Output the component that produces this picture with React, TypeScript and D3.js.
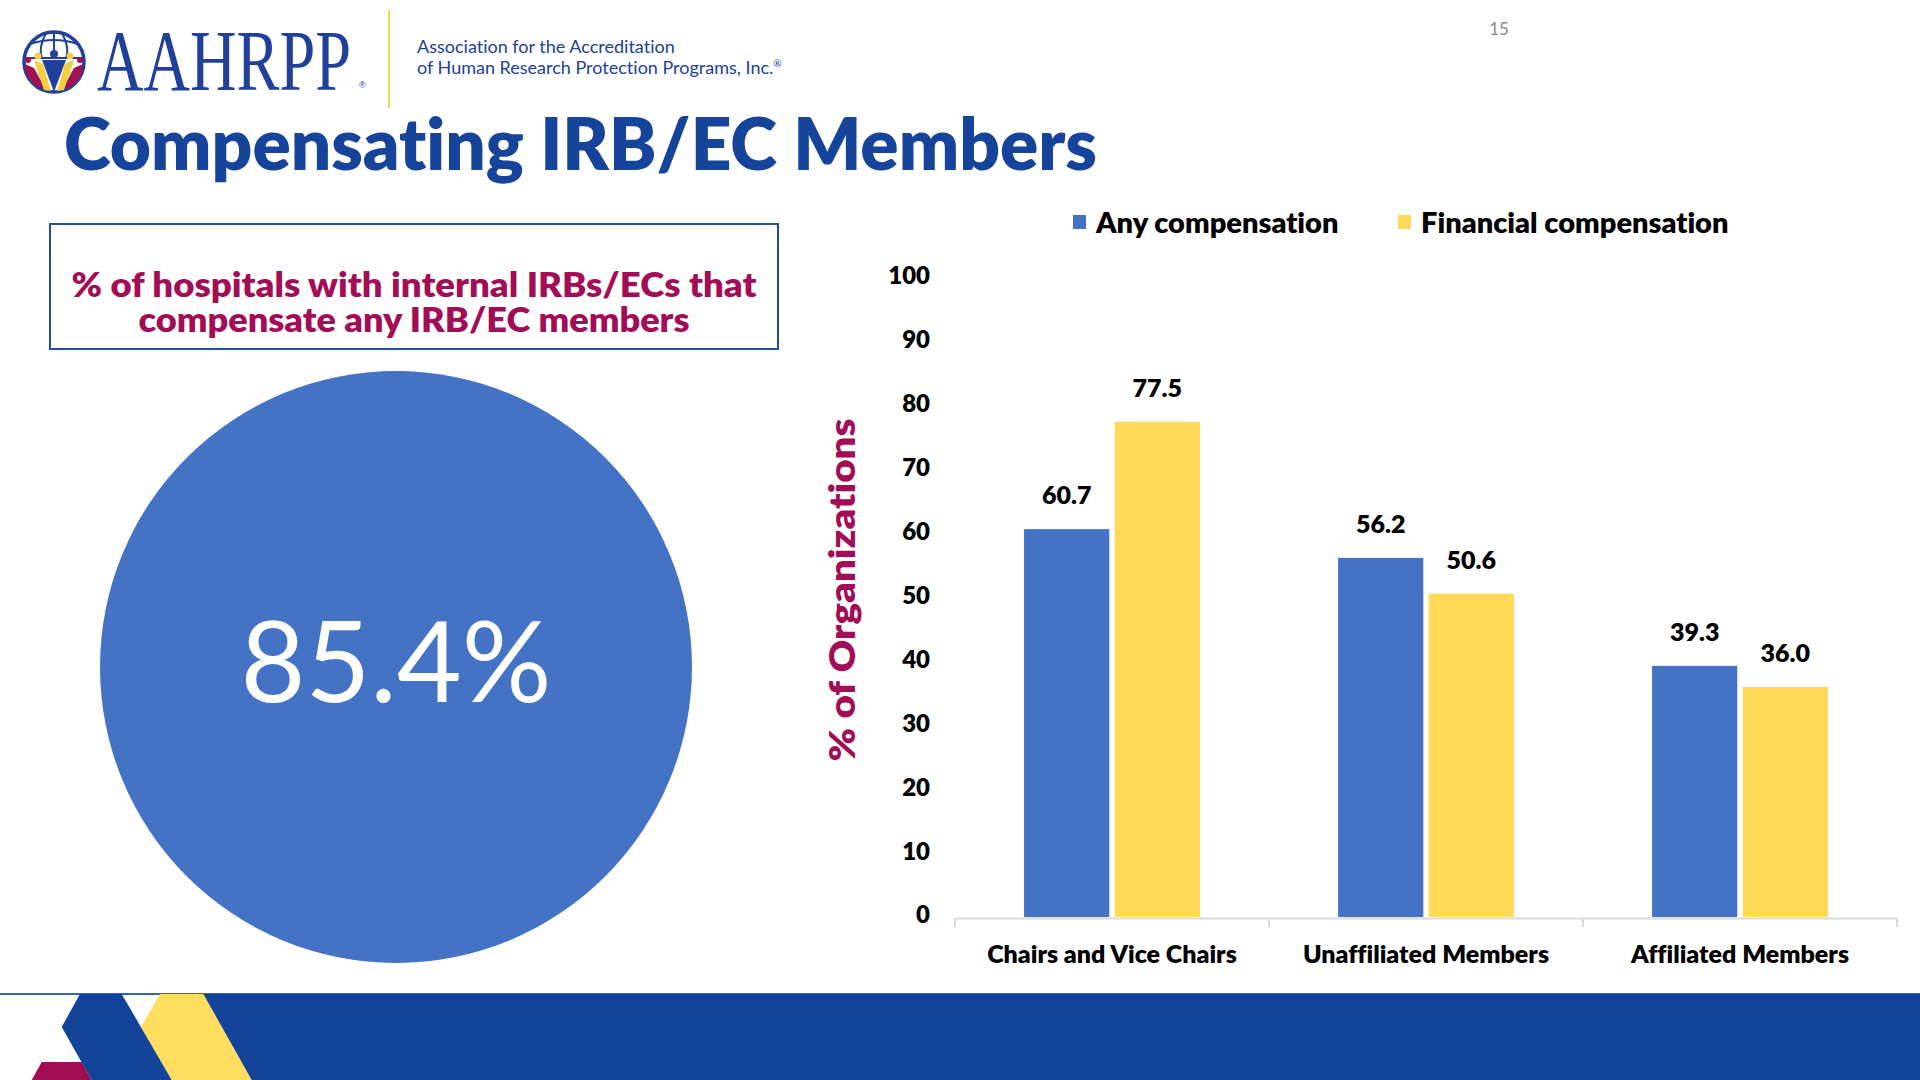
import React from 'react';
import * as d3 from 'd3';

// chart data
const categories = ['Chairs and Vice Chairs', 'Unaffiliated Members', 'Affiliated Members'];
const seriesNames = ['Any compensation', 'Financial compensation'];
const anyCompensation = [60.7, 56.2, 39.3];
const financialCompensation = [77.5, 50.6, 36.0];
const yTicks = [0, 10, 20, 30, 40, 50, 60, 70, 80, 90, 100];
const hospitalShare = 85.4;

const BLUE = '#4472C4';
const YELLOW = '#FFD957';
const NAVY = '#17449B';
const MAROON = '#A10E55';
const FONT = 'Lato, "Open Sans", sans-serif';
const BOLD = 800;

const seriesColors = [BLUE, YELLOW];
const seriesValues = [anyCompensation, financialCompensation];

const Logo: React.FC = () => {
  const cx = 54, cy = 62, r = 30;
  return (
    <g>
      <circle cx={cx} cy={cy} r={r} fill="none" stroke="#21409A" strokeWidth={3.5} />
      {/* globe lines */}
      <line x1={cx - r} y1={cy - 4} x2={cx + r} y2={cy - 4} stroke="#21409A" strokeWidth={2} />
      <path d={`M${cx - 24},${cy - 18} Q${cx},${cy - 26} ${cx + 24},${cy - 18}`} fill="none" stroke="#21409A" strokeWidth={2} />
      <path d={`M${cx},${cy - r} L${cx},${cy - 8}`} stroke="#21409A" strokeWidth={2} />
      <path d={`M${cx - 8},${cy - r + 1} Q${cx - 16},${cy - 14} ${cx - 12},${cy - 4}`} fill="none" stroke="#21409A" strokeWidth={2} />
      <path d={`M${cx + 8},${cy - r + 1} Q${cx + 16},${cy - 14} ${cx + 12},${cy - 4}`} fill="none" stroke="#21409A" strokeWidth={2} />
      {/* figures */}
      <path d={`M${cx - 29},${cy + 2} L${cx - 20},${cy + 6} L${cx - 8},${cy + 28} Q${cx - 20},${cy + 26} ${cx - 28},${cy + 12} Z`} fill="#A2124F" />
      <path d={`M${cx + 29},${cy + 2} L${cx + 20},${cy + 6} L${cx + 8},${cy + 28} Q${cx + 20},${cy + 26} ${cx + 28},${cy + 12} Z`} fill="#A2124F" />
      <path d={`M${cx - 20},${cy - 2} L${cx - 11},${cy + 2} L${cx - 3},${cy + 29} L${cx - 10},${cy + 28} Z`} fill="#F6CF3F" />
      <path d={`M${cx + 20},${cy - 2} L${cx + 11},${cy + 2} L${cx + 3},${cy + 29} L${cx + 10},${cy + 28} Z`} fill="#F6CF3F" />
      <path d={`M${cx - 12},${cy - 2} L${cx + 12},${cy - 2} L${cx},${cy + 30} Z`} fill="#21409A" />
      <circle cx={cx} cy={cy - 8} r={4} fill="#21409A" />
      <circle cx={cx - 16} cy={cy - 6} r={3.5} fill="#F6CF3F" />
      <circle cx={cx + 16} cy={cy - 6} r={3.5} fill="#F6CF3F" />
      <circle cx={cx - 26} cy={cy - 2} r={3} fill="#A2124F" />
      <circle cx={cx + 26} cy={cy - 2} r={3} fill="#A2124F" />
      <text x={97} y={90} fontFamily='"Liberation Serif", serif' fontSize={86} fill="#21409A"
        textLength={254} lengthAdjust="spacingAndGlyphs">AAHRPP</text>
      <text x={359} y={88} fontFamily='"Liberation Sans", sans-serif' fontSize={9} fill="#21409A">®</text>
      <line x1={389} y1={10} x2={389} y2={108} stroke="#F7D54A" strokeWidth={2} />
      <text x={417} y={53} fontFamily={FONT} fontSize={18} fill="#21409A">Association for the Accreditation</text>
      <text x={417} y={74} fontFamily={FONT} fontSize={18} fill="#21409A">of Human Research Protection Programs, Inc.<tspan fontSize={10} dy={-7}>®</tspan></text>
    </g>
  );
};

const Banner: React.FC = () => (
  <g>
    <rect x={0} y={993} width={1920} height={2} fill="#3563B2" />
    <polygon points="41.7,1062 81.7,1062 91.7,1080 31.7,1080" fill="#A20E53" />
    <polygon points="160,994 141,1027 171.7,1080 251.7,1080 203.3,994" fill="#FFDD5E" />
    <polygon points="80,994 121.7,994 171.7,1080 91.7,1080 61.7,1027" fill="#13449A" />
    <polygon points="203.3,994 1920,994 1920,1080 251.7,1080" fill="#13449A" />
  </g>
);

export default function App() {
  const y = d3.scaleLinear().domain([0, 100]).range([917, 278]);
  const x0 = d3.scaleBand<string>().domain(categories).range([955, 1897]).paddingInner(0.44).paddingOuter(0.22);
  const x1 = d3.scaleBand<string>().domain(seriesNames).range([0, x0.bandwidth()]).paddingInner(0.06);
  const step = x0.step();
  const boundaries = d3.range(categories.length + 1).map(i => 955 + i * step);

  return (
    <svg width={1920} height={1080}
      style={{ position: 'absolute', left: 0, top: 0, background: '#fff', fontVariantLigatures: 'none' }}>
      <rect width={1920} height={1080} fill="#fff" />
      <Logo />
      <text x={1499} y={35} fontFamily={FONT} fontSize={17} fill="#8C8C8C" textAnchor="middle">15</text>

      <text x={64} y={170} fontFamily={FONT} fontWeight={BOLD} fontSize={71} fill={NAVY}
        textLength={1033} lengthAdjust="spacingAndGlyphs">Compensating IRB/EC Members</text>

      {/* left panel */}
      <rect x={50} y={224} width={728} height={125} fill="#fff" stroke="#1F4E9A" strokeWidth={2} />
      <text x={414} y={297} fontFamily={FONT} fontWeight={BOLD} fontSize={34} fill={MAROON} textAnchor="middle"
        textLength={685} lengthAdjust="spacingAndGlyphs">
        % of hospitals with internal IRBs/ECs that
      </text>
      <text x={414} y={332} fontFamily={FONT} fontWeight={BOLD} fontSize={34} fill={MAROON} textAnchor="middle"
        textLength={551} lengthAdjust="spacingAndGlyphs">
        compensate any IRB/EC members
      </text>
      <circle cx={396} cy={667} r={296} fill={BLUE} />
      <text x={396} y={702} fontFamily={FONT} fontSize={112} fill="#fff" textAnchor="middle">
        {hospitalShare.toFixed(1)}%
      </text>

      {/* legend */}
      {seriesNames.map((s, i) => {
        const lx = i === 0 ? 1073 : 1398;
        return (
          <g key={s}>
            <rect x={lx} y={215} width={13} height={14} fill={seriesColors[i]} />
            <text x={lx + 23} y={233} fontFamily={FONT} fontWeight={BOLD} fontSize={29} fill="#000">{s}</text>
          </g>
        );
      })}

      {/* y axis */}
      <text transform="translate(855,590) rotate(-90)" fontFamily={FONT} fontWeight={BOLD} fontSize={36}
        fill={MAROON} textAnchor="middle" textLength={343} lengthAdjust="spacingAndGlyphs">% of Organizations</text>
      {yTicks.map(t => (
        <text key={t} x={930} y={y(t) - 2} dy="0.35em" textAnchor="end" fontFamily={FONT}
          fontWeight={BOLD} fontSize={24} fill="#000">{t}</text>
      ))}

      {/* bars */}
      {categories.map((c, ci) => (
        <g key={c} transform={`translate(${x0(c)},0)`}>
          {seriesNames.map((s, si) => {
            const v = seriesValues[si][ci];
            const bx = x1(s)!;
            return (
              <g key={s}>
                <rect x={bx} y={y(v)} width={x1.bandwidth()} height={y(0) - y(v)} fill={seriesColors[si]} />
                <text x={bx + x1.bandwidth() / 2} y={y(v) - 25} textAnchor="middle" fontFamily={FONT}
                  fontWeight={BOLD} fontSize={25} fill="#000">{v.toFixed(1)}</text>
              </g>
            );
          })}
        </g>
      ))}

      {/* x axis */}
      <line x1={955} y1={918.5} x2={1897} y2={918.5} stroke="#D9D9D9" strokeWidth={2} />
      {boundaries.map(b => (
        <line key={b} x1={b} y1={918} x2={b} y2={927} stroke="#D9D9D9" strokeWidth={2} />
      ))}
      {categories.map(c => (
        <text key={c} x={x0(c)! + x0.bandwidth() / 2} y={963} textAnchor="middle" fontFamily={FONT}
          fontWeight={BOLD} fontSize={25} fill="#000">{c}</text>
      ))}

      <Banner />
    </svg>
  );
}
